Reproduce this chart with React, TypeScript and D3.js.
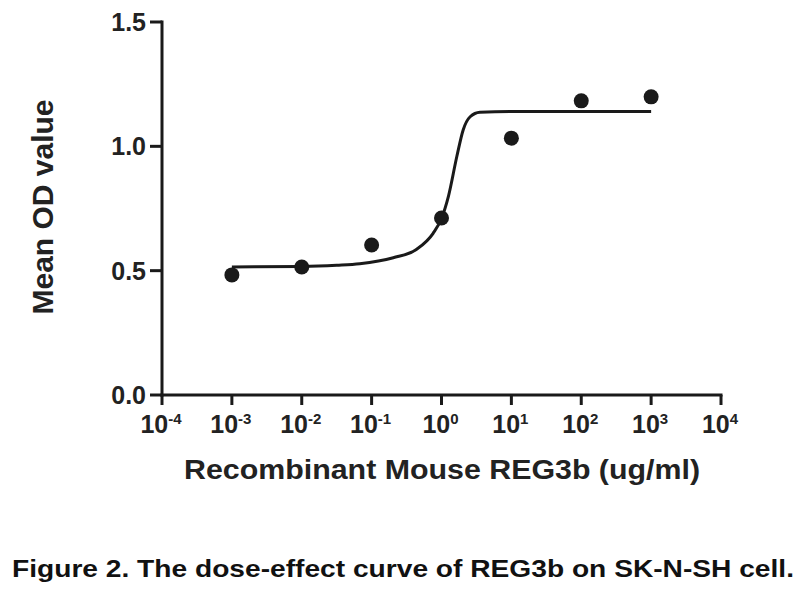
import * as d3 from "d3";
import React from "react";

// measured points (dose in ug/ml, mean OD)
const doses = [1e-3, 1e-2, 1e-1, 1e0, 1e1, 1e2, 1e3];
const meanOD = [0.483, 0.515, 0.603, 0.712, 1.033, 1.183, 1.199];

// fitted curve: log10 dose vs OD
const fitLogDose = [-3, -2, -1.5, -1.17, -0.69, -0.36, -0.12, 0, 0.1, 0.22, 0.31, 0.41, 0.55, 1, 2, 3];
const fitOD = [0.515, 0.517, 0.522, 0.528, 0.552, 0.585, 0.65, 0.71, 0.8, 0.96, 1.066, 1.119, 1.137, 1.14, 1.14, 1.14];

const yTicks = [0, 0.5, 1.0, 1.5];
const xTickExps = [-4, -3, -2, -1, 0, 1, 2, 3, 4];

const yTitle = "Mean OD value";
const xTitle = "Recombinant Mouse REG3b (ug/ml)";
const caption = "Figure 2. The dose-effect curve of REG3b on SK-N-SH cell.";

const W = 800;
const H = 600;
const left = 162;
const right = 721;
const top = 22;
const bottom = 395;
const font = "'Liberation Sans', Arial, sans-serif";
const ink = "#1a1a1a";

const App = () => {
  const x = d3.scaleLog().domain([1e-4, 1e4]).range([left, right]);
  const y = d3.scaleLinear().domain([0, 1.5]).range([bottom, top]);

  const fit = fitLogDose.map((l, i) => [Math.pow(10, l), fitOD[i]] as [number, number]);
  const line = d3
    .line<[number, number]>()
    .x((d) => x(d[0]))
    .y((d) => y(d[1]))
    .curve(d3.curveMonotoneX);

  return (
    <svg
      width={W}
      height={H}
      style={{ position: "absolute", left: 0, top: 0, background: "#fff" }}
    >
      {/* axes */}
      <line x1={left} x2={left} y1={y(1.5) - 1.5} y2={bottom + 1.5} stroke={ink} strokeWidth={3} />
      <line x1={left - 1.5} x2={right + 1.5} y1={bottom} y2={bottom} stroke={ink} strokeWidth={3} />

      {yTicks.map((t) => (
        <g key={t}>
          <line x1={left - 12} x2={left} y1={y(t)} y2={y(t)} stroke={ink} strokeWidth={3} />
          <text
            x={left - 16}
            y={y(t) + 9}
            textAnchor="end"
            fontFamily={font}
            fontWeight="bold"
            fontSize={25}
            fill="#222"
          >
            {d3.format(".1f")(t)}
          </text>
        </g>
      ))}

      {xTickExps.map((e) => {
        const px = x(Math.pow(10, e));
        return (
          <g key={e}>
            <line x1={px} x2={px} y1={bottom} y2={bottom + 10} stroke={ink} strokeWidth={3} />
            <text
              x={px - 1}
              y={433}
              textAnchor="middle"
              fontFamily={font}
              fontWeight="bold"
              fontSize={25}
              fill="#222"
            >
              10
              <tspan fontSize={15} dy={-9}>
                {e}
              </tspan>
            </text>
          </g>
        );
      })}

      {/* fitted curve */}
      <path d={line(fit) || undefined} fill="none" stroke={ink} strokeWidth={3} />

      {/* data points */}
      {doses.map((d, i) => (
        <circle key={d} cx={x(d)} cy={y(meanOD[i])} r={7.5} fill={ink} />
      ))}

      <text
        transform={`translate(53, 207) rotate(-90)`}
        textAnchor="middle"
        fontFamily={font}
        fontWeight="bold"
        fontSize={30}
        fill="#222"
        textLength={215}
        lengthAdjust="spacingAndGlyphs"
      >
        {yTitle}
      </text>

      <text
        x={184}
        y={479}
        fontFamily={font}
        fontWeight="bold"
        fontSize={28}
        fill="#222"
        textLength={516}
        lengthAdjust="spacingAndGlyphs"
      >
        {xTitle}
      </text>

      <text
        x={12}
        y={577}
        fontFamily={font}
        fontWeight="bold"
        fontSize={24}
        fill="#111"
        textLength={782}
        lengthAdjust="spacingAndGlyphs"
      >
        {caption}
      </text>
    </svg>
  );
};

export default App;
